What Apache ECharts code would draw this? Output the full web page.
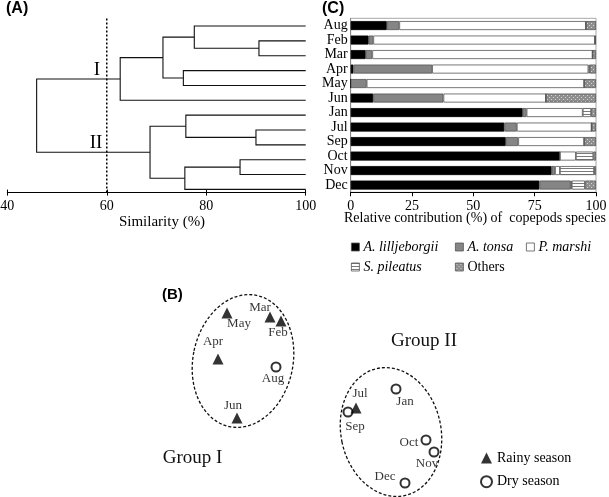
<!DOCTYPE html>
<html><head><meta charset="utf-8">
<script src="https://cdn.jsdelivr.net/npm/echarts@6/dist/echarts.min.js"></script>
<style>html,body{margin:0;padding:0;background:#fff}#c{width:609px;height:497px}</style>
</head><body><div id="c"></div>
<script>
// ---------- DATA ----------
const months = ['Aug','Feb','Mar','Apr','May','Jun','Jan','Jul','Sep','Oct','Nov','Dec'];

// (A) Cluster dendrogram: merge i joins mergeA[i] and mergeB[i] at mergeSim[i] (% similarity); 'cK' = cluster of merge K
const mergeA   = ['Feb','Aug','Apr','c1','c3','Jul','Jan','Oct','c7','c6','c4'];
const mergeB   = ['Mar','c0','May','c2','Jun','Sep','c5','Nov','Dec','c8','c9'];
const mergeSim = [90.6, 77.6, 75.4, 71.3, 62.7, 90.0, 75.9, 86.8, 75.7, 68.7, 45.9];
const cutoff = 60;
const simTicks = [40, 60, 80, 100];

// (C) Relative contribution (%) of copepod species
const speciesNames = ['A. lilljeborgii','A. tonsa','P. marshi','S. pileatus','Others'];
const aLilljeborgii = [14.7, 7.3, 6.1, 1.1, 0.0, 9.2, 70.1, 62.6, 63.2, 85.3, 81.9, 76.9];
const aTonsa        = [ 5.1, 1.9, 2.7,32.1, 6.5,28.6,  1.6,  5.1,  5.1,  0.0,  1.4, 12.8];
const pMarshi       = [76.1,90.4,89.8,63.7,88.7,41.8, 22.9, 30.5, 26.9,  6.5,  2.0,  0.4];
const sPileatus     = [ 0.0, 0.0, 0.0, 0.6, 0.0, 0.0,  3.4,  0.0,  0.0,  7.1, 13.9,  5.4];
const othersSp      = [ 4.1, 0.4, 1.4, 2.5, 4.8,20.4,  2.0,  1.8,  4.8,  1.1,  0.8,  4.5];
const contribTicks = [0, 25, 50, 75, 100];

// (B) NMDS ordination
const nmdsMonths = ['May','Mar','Feb','Apr','Aug','Jun','Jul','Sep','Jan','Oct','Nov','Dec'];
const nmdsX      = [-0.93,-0.50,-0.39,-1.02,-0.44,-0.83, 0.36, 0.28, 0.76, 1.06, 1.14, 0.85];
const nmdsY      = [ 0.67, 0.63, 0.59, 0.21, 0.13,-0.38,-0.28,-0.32,-0.09,-0.60,-0.72,-1.03];
const nmdsSeason = ['Rainy','Rainy','Rainy','Rainy','Dry','Rainy','Rainy','Dry','Dry','Dry','Dry','Dry'];
// group ellipses (NMDS units): centre x, centre y, radius x, radius y, tilt (deg)
const groupCx = [-0.77, 0.71];
const groupCy = [ 0.19,-0.52];
const groupRx = [ 0.50, 0.50];
const groupRy = [ 0.67, 0.65];
const groupTilt = [-11.6, 12];

// ---------- STYLE / LAYOUT ----------
const serif = "'Liberation Serif','Times New Roman',serif";
const sans = "'Liberation Sans',Arial,sans-serif";
// label offsets (px) for NMDS point names
const labelOffsets = [[12,11],[-10,-9],[-3,12],[-5,-17],[-3,12],[-4,-12],[4,-14],[7,15],[9,13],[-17,3],[-7,12],[-20,-6]];

function pattern(w,h,draw){const c=document.createElement('canvas');c.width=w;c.height=h;const g=c.getContext('2d');draw(g);return {image:c,repeat:'repeat'};}
const hatch = pattern(4,3,g=>{g.fillStyle='#ffffff';g.fillRect(0,0,4,3);g.fillStyle='#7a7a7a';g.fillRect(0,0,4,1);});
const dots = pattern(4,4,g=>{g.fillStyle='#8e8e8e';g.fillRect(0,0,4,4);g.fillStyle='#d4d4d4';g.fillRect(1,1,1,1);g.fillRect(3,3,1,1);});
const speciesColors = ['#000000','#858585','#ffffff',hatch,dots];
const speciesData = [aLilljeborgii,aTonsa,pMarshi,sPileatus,othersSp];

// dendrogram geometry from merge table
const yPos = {}, xLev = {};
months.forEach((m,i)=>{yPos[m]=i; xLev[m]=100;});
const dendroData = mergeA.map((a,i)=>{
  const b = mergeB[i];
  const row = [mergeSim[i], yPos[a], yPos[b], xLev[a], xLev[b]];
  yPos['c'+i] = (yPos[a]+yPos[b])/2; xLev['c'+i] = mergeSim[i];
  return row;
});
const dYmin = -0.5, dYmax = 11.215;

const chart = echarts.init(document.getElementById('c'), null, {renderer:'canvas', width:609, height:497});

const barSeries = speciesNames.map((n,k)=>({
  name:n, type:'bar', stack:'sp', xAxisIndex:2, yAxisIndex:1, barWidth:9,
  itemStyle:{color:speciesColors[k], borderColor:k===0?'#000':'#555', borderWidth:0.8},
  emphasis:{disabled:true}, data:speciesData[k]
}));

const legendPos = [[351,239],[455,239],[526,239],[351,259],[455,259]];
const legends = speciesNames.map((n,k)=>({
  left:legendPos[k][0], top:legendPos[k][1], data:[n], icon:'rect', itemWidth:8, itemHeight:8, itemGap:0,
  selectedMode:false, padding:0,
  itemStyle:{borderColor:'#555', borderWidth:0.8},
  textStyle:{fontFamily:serif, fontSize:14, color:'#000', fontStyle:k<4?'italic':'normal', lineHeight:16, padding:[0,0,0,-1]}
}));
legends.push({
  left:480, top:451, orient:'vertical', itemGap:9.7, itemWidth:11, itemHeight:11, selectedMode:false, padding:0,
  data:[{name:'Rainy season', icon:'triangle', itemStyle:{color:'#000'}},
        {name:'Dry season', icon:'circle', itemStyle:{color:'#fff', borderColor:'#000', borderWidth:2}}],
  textStyle:{fontFamily:serif, fontSize:14, color:'#000', lineHeight:14}
});

function scatterData(season){
  const out=[];
  nmdsMonths.forEach((m,i)=>{ if(nmdsSeason[i]===season) out.push({name:m, value:[nmdsX[i],nmdsY[i]], label:{offset:labelOffsets[i]}}); });
  return out;
}
const ptLabel = {show:true, position:'inside', formatter:'{b}', fontFamily:serif, fontSize:13, color:'#000'};

const option = {
  animation:false, backgroundColor:'#fff',
  grid:[
    {left:7.3, top:18.6, width:298.4, height:174, containLabel:false, outerBoundsMode:'none'},
    {left:350.7, top:18.3, width:245.3, height:174, containLabel:false, outerBoundsMode:'none', show:true, borderColor:'#a8a8a8', borderWidth:1},
    {left:120, top:280, width:450, height:220, containLabel:false, outerBoundsMode:'none'}
  ],
  xAxis:[
    {gridIndex:0, type:'value', min:simTicks[0], max:simTicks[simTicks.length-1], interval:20, position:'bottom',
     axisLine:{onZero:false, lineStyle:{color:'#000', width:1}}, axisTick:{show:true, length:3, lineStyle:{color:'#000'}},
     axisLabel:{fontFamily:serif, fontSize:14, color:'#000', margin:7}, splitLine:{show:false}},
    {gridIndex:0, type:'value', min:simTicks[0], max:simTicks[simTicks.length-1], interval:20, position:'bottom', offset:0,
     axisLine:{show:false, onZero:false}, axisTick:{show:true, inside:true, length:3, lineStyle:{color:'#000'}},
     axisLabel:{show:false}, splitLine:{show:false}},
    {gridIndex:1, type:'value', min:contribTicks[0], max:contribTicks[contribTicks.length-1], interval:25,
     axisLine:{show:true, onZero:false, lineStyle:{color:'#000', width:1}}, axisTick:{show:true, length:4, lineStyle:{color:'#000'}},
     axisLabel:{fontFamily:serif, fontSize:14, color:'#000', margin:7}, splitLine:{show:false}},
    {gridIndex:2, type:'value', min:-2, max:2.5, show:false}
  ],
  yAxis:[
    {gridIndex:0, type:'value', min:dYmin, max:dYmax, inverse:true, show:false},
    {gridIndex:1, type:'category', data:months, inverse:true,
     axisLine:{show:true, lineStyle:{color:'#888'}}, axisTick:{show:false},
     axisLabel:{interval:0, fontFamily:serif, fontSize:14, color:'#000', margin:3}},
    {gridIndex:2, type:'value', min:-1.2, max:1.0, show:false}
  ],
  legend:legends,
  graphic:[
    {type:'text', left:6, top:1, style:{text:'(A)', font:'bold 16px '+sans, fill:'#000'}},
    {type:'text', left:322, top:1, style:{text:'(C)', font:'bold 16px '+sans, fill:'#000'}},
    {type:'text', left:162, top:287, style:{text:'(B)', font:'bold 15px '+sans, fill:'#000'}},
    {type:'text', x:97, y:70, style:{text:'I', font:'19px '+serif, fill:'#000', align:'center', verticalAlign:'middle'}},
    {type:'text', x:96, y:143, style:{text:'II', font:'19px '+serif, fill:'#000', align:'center', verticalAlign:'middle'}},
    {type:'text', x:162, y:222, style:{text:'Similarity (%)', font:'15px '+serif, fill:'#000', align:'center', verticalAlign:'middle'}},
    {type:'text', x:475, y:218, style:{text:'Relative contribution (%) of  copepods species', font:'14px '+serif, fill:'#000', align:'center', verticalAlign:'middle'}},
    {type:'text', x:192.5, y:458, style:{text:'Group I', font:'19px '+serif, fill:'#111', align:'center', verticalAlign:'middle'}},
    {type:'text', x:424, y:341, style:{text:'Group II', font:'19px '+serif, fill:'#111', align:'center', verticalAlign:'middle'}}
  ],
  series:[
    {type:'custom', name:'dendrogram', xAxisIndex:0, yAxisIndex:0, silent:true, data:dendroData,
     renderItem:(params, api)=>{
       const s=api.value(0), ya=api.value(1), yb=api.value(2), xa=api.value(3), xb=api.value(4);
       return {type:'polyline', shape:{points:[api.coord([xa,ya]),api.coord([s,ya]),api.coord([s,yb]),api.coord([xb,yb])]},
               style:{stroke:'#111', lineWidth:1.1, fill:null}};
     }},
    {type:'line', name:'cutoff', xAxisIndex:0, yAxisIndex:0, silent:true, symbol:'none',
     data:[[cutoff,dYmin],[cutoff,dYmax]], lineStyle:{color:'#000', width:1.5, type:[2,2]}},
    ...barSeries,
    {type:'custom', name:'groups', xAxisIndex:3, yAxisIndex:2, silent:true,
     data:groupCx.map((c,i)=>[c,groupCy[i],groupRx[i],groupRy[i],groupTilt[i]]),
     renderItem:(params, api)=>{
       const c = api.coord([api.value(0), api.value(1)]);
       const sz = api.size([api.value(2), api.value(3)]);
       return {type:'ellipse', x:c[0], y:c[1], rotation:api.value(4)*Math.PI/180,
               shape:{cx:0, cy:0, rx:sz[0], ry:sz[1]},
               style:{fill:null, stroke:'#111', lineWidth:1.3, lineDash:[3,2]}};
     }},
    {type:'scatter', name:'Rainy season', xAxisIndex:3, yAxisIndex:2, symbol:'triangle', symbolSize:11,
     itemStyle:{color:'#000'}, label:ptLabel, data:scatterData('Rainy'), z:5},
    {type:'scatter', name:'Dry season', xAxisIndex:3, yAxisIndex:2, symbol:'circle', symbolSize:9,
     itemStyle:{color:'#fff', borderColor:'#000', borderWidth:2}, label:ptLabel, data:scatterData('Dry'), z:4}
  ]
};
chart.setOption(option);
</script></body></html>
